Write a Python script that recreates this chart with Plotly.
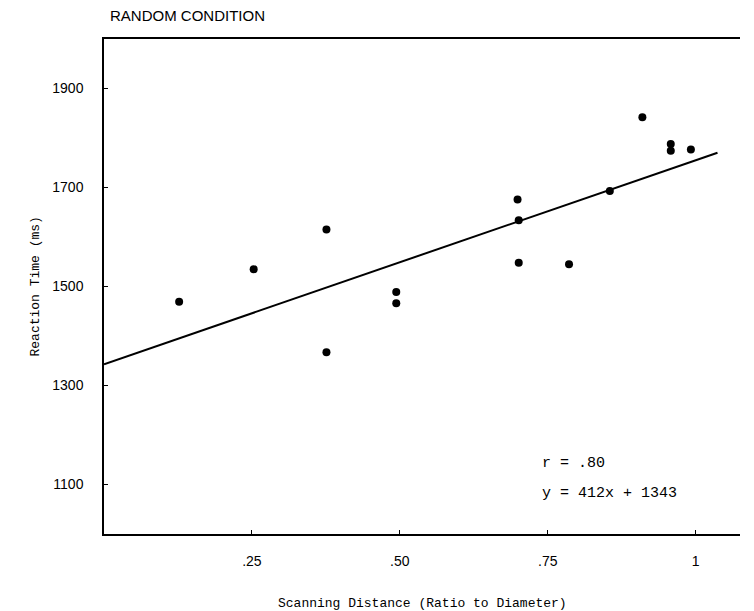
import plotly.graph_objects as go

# Data
scan_distance = [0.127, 0.253, 0.376, 0.376, 0.494, 0.494, 0.699, 0.701, 0.701,
                 0.786, 0.855, 0.910, 0.958, 0.958, 0.992]
reaction_time = [1469, 1535, 1615, 1367, 1489, 1466, 1676, 1634, 1548,
                 1545, 1693, 1842, 1788, 1774, 1777]

slope = 412
intercept = 1343
fit_x = [0.0, 1.037]
fit_y = [slope * v + intercept for v in fit_x]

x_tickvals = [0.25, 0.50, 0.75, 1.0]
x_ticktext = [".25", ".50", ".75", "1"]
y_tickvals = [1100, 1300, 1500, 1700, 1900]

fig = go.Figure()
fig.add_trace(go.Scatter(x=fit_x, y=fit_y, mode="lines",
                         line=dict(color="black", width=2), showlegend=False,
                         hoverinfo="skip"))
fig.add_trace(go.Scatter(x=scan_distance, y=reaction_time, mode="markers",
                         marker=dict(color="black", size=8), showlegend=False))

mono = "Liberation Mono"
fig.update_layout(
    width=754, height=611,
    margin=dict(l=104, r=14, t=39, b=77),
    paper_bgcolor="white", plot_bgcolor="white",
    font=dict(family="Liberation Sans", color="black", size=12),
    xaxis=dict(range=[0, 1.075], tickvals=x_tickvals, ticktext=x_ticktext,
               showgrid=False, zeroline=False, showline=True, mirror=True,
               linecolor="black", linewidth=1.5, ticks="inside", ticklen=4,
               tickcolor="black", tickfont=dict(size=14), ticklabelstandoff=13,
               automargin=False),
    yaxis=dict(range=[1000, 2000], tickvals=y_tickvals,
               showgrid=False, zeroline=False, showline=True, mirror=False,
               linecolor="black", linewidth=1.5, ticks="inside", ticklen=4,
               tickcolor="black", tickfont=dict(size=14), ticklabelstandoff=16,
               automargin=False),
    annotations=[
        dict(text="RANDOM CONDITION", xref="paper", yref="paper", x=0.0, y=1.0,
             xshift=4, yshift=13, xanchor="left", yanchor="bottom",
             showarrow=False, font=dict(family="Liberation Sans", size=15)),
        dict(text="Scanning Distance (Ratio to Diameter)", xref="paper", yref="paper",
             x=0.5, y=0.0, yshift=-69, xanchor="center", yanchor="middle",
             showarrow=False, font=dict(family=mono, size=13)),
        dict(text="Reaction Time (ms)", xref="paper", yref="paper",
             x=0.0, y=0.5, xshift=-69, xanchor="center", yanchor="middle",
             textangle=-90, showarrow=False, font=dict(family=mono, size=13)),
        dict(text="r = .80", xref="paper", yref="paper", x=0.685, y=0.0,
             yshift=71, xanchor="left", yanchor="middle", showarrow=False,
             font=dict(family=mono, size=15)),
        dict(text="y = 412x + 1343", xref="paper", yref="paper", x=0.685, y=0.0,
             yshift=41, xanchor="left", yanchor="middle", showarrow=False,
             font=dict(family=mono, size=15)),
    ],
)

fig.write_html("out.html")
